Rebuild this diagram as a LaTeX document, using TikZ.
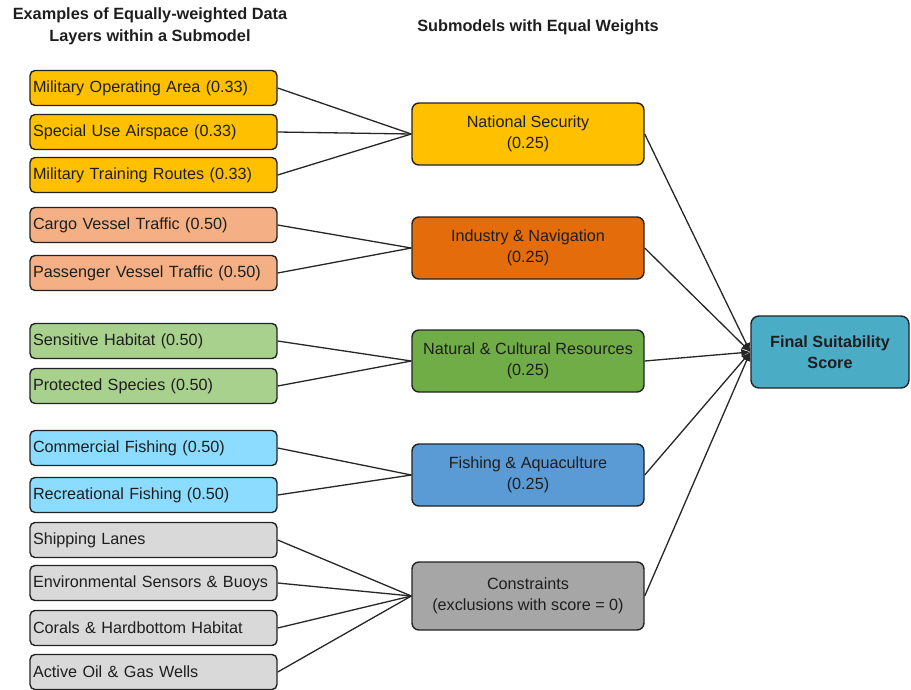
\documentclass[tikz,border=0pt]{standalone}
\usepackage{fontspec}
\setmainfont{Liberation Sans}
\usepackage{tikz}
\usetikzlibrary{arrows.meta,positioning}
\usepackage{xcolor}
\definecolor{nsfill}{RGB}{255,192,0}
\definecolor{indfill}{RGB}{228,108,10}
\definecolor{indlfill}{RGB}{244,176,132}
\definecolor{natfill}{RGB}{112,173,71}
\definecolor{natlfill}{RGB}{169,209,142}
\definecolor{fishfill}{RGB}{91,155,213}
\definecolor{fishlfill}{RGB}{140,220,255}
\definecolor{confill}{RGB}{166,166,166}
\definecolor{conlfill}{RGB}{217,217,217}
\definecolor{finfill}{RGB}{75,172,198}
\definecolor{edge}{RGB}{35,35,35}
\definecolor{txt}{RGB}{30,30,30}

\begin{document}
\begin{tikzpicture}[x=1pt, y=-1pt, >=Latex, text=txt,
  font=\fontsize{16.2}{21}\selectfont,
  lay/.style={draw=edge, line width=1.4pt, rounded corners=5pt, text width=241pt, align=left,
    inner xsep=3pt, minimum height=35pt, inner ysep=1pt},
  sub/.style={draw=edge, line width=1.4pt, rounded corners=7pt, minimum width=232pt,
    minimum height=62pt, align=center},
  link/.style={draw=black!85, line width=1.3pt}]
\useasboundingbox (0,0) rectangle (911,689);
% headers
\node[font=\bfseries\fontsize{16.3}{22}\selectfont, align=center] (h1) at (150,26)
  {Examples of Equally-weighted Data\\Layers within a Submodel};
\node[font=\bfseries\fontsize{16.3}{22}\selectfont] (h2) at (538,27) {Submodels with Equal Weights};
% data layers
\node[lay, fill=nsfill] (l1) at (153.5,88) {Military Operating Area (0.33)};
\node[lay, fill=nsfill] (l2) at (153.5,132) {Special Use Airspace (0.33)};
\node[lay, fill=nsfill] (l3) at (153.5,175) {Military Training Routes (0.33)};
\node[lay, fill=indlfill] (l4) at (153.5,225) {Cargo Vessel Traffic (0.50)};
\node[lay, fill=indlfill] (l5) at (153.5,273) {Passenger Vessel Traffic (0.50)};
\node[lay, fill=natlfill] (l6) at (153.5,341) {Sensitive Habitat (0.50)};
\node[lay, fill=natlfill] (l7) at (153.5,386) {Protected Species (0.50)};
\node[lay, fill=fishlfill] (l8) at (153.5,448) {Commercial Fishing (0.50)};
\node[lay, fill=fishlfill] (l9) at (153.5,495) {Recreational Fishing (0.50)};
\node[lay, fill=conlfill] (l10) at (153.5,540) {Shipping Lanes};
\node[lay, fill=conlfill] (l11) at (153.5,583) {Environmental Sensors \& Buoys};
\node[lay, fill=conlfill] (l12) at (153.5,628) {Corals \& Hardbottom Habitat};
\node[lay, fill=conlfill] (l13) at (153.5,672) {Active Oil \& Gas Wells};
% submodels
\node[sub, fill=nsfill] (ns) at (528,134) {National Security\\(0.25)};
\node[sub, fill=indfill] (ind) at (528,248) {Industry \& Navigation\\(0.25)};
\node[sub, fill=natfill] (nat) at (528,361) {Natural \& Cultural Resources\\(0.25)};
\node[sub, fill=fishfill] (fish) at (528,475) {Fishing \& Aquaculture\\(0.25)};
\node[sub, fill=confill, minimum height=68pt] (con) at (528,596) {Constraints\\(exclusions with score = 0)};
% final score
\node[draw=edge, line width=1.4pt, rounded corners=8pt, fill=finfill, minimum width=158pt,
      minimum height=72pt, align=center, font=\bfseries\fontsize{16.2}{21}\selectfont] (fin) at (830,352)
      {Final Suitability\\Score};
% layers to submodels
\draw[link] (l1.east) -- (ns.west);
\draw[link] (l2.east) -- (ns.west);
\draw[link] (l3.east) -- (ns.west);
\draw[link] (l4.east) -- (ind.west);
\draw[link] (l5.east) -- (ind.west);
\draw[link] (l6.east) -- (nat.west);
\draw[link] (l7.east) -- (nat.west);
\draw[link] (l8.east) -- (fish.west);
\draw[link] (l9.east) -- (fish.west);
\draw[link] (l10.east) -- (con.west);
\draw[link] (l11.east) -- (con.west);
\draw[link] (l12.east) -- (con.west);
\draw[link] (l13.east) -- (con.west);
% submodels to final
\draw[link, -{Latex[length=9pt,width=8pt]}] (ns.east) -- (fin.west);
\draw[link, -{Latex[length=9pt,width=8pt]}] (ind.east) -- (fin.west);
\draw[link, -{Latex[length=9pt,width=8pt]}] (nat.east) -- (fin.west);
\draw[link, -{Latex[length=9pt,width=8pt]}] (fish.east) -- (fin.west);
\draw[link, -{Latex[length=9pt,width=8pt]}] (con.east) -- (fin.west);
\end{tikzpicture}
\end{document}
